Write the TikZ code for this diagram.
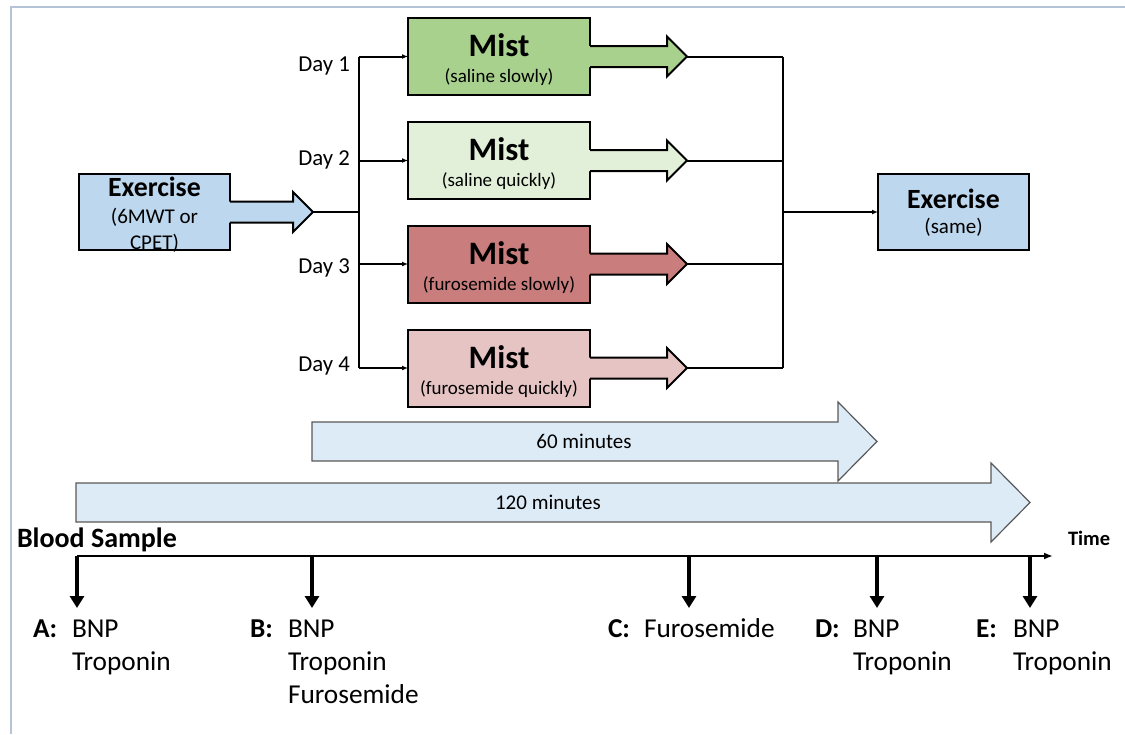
\documentclass[tikz,border=0pt]{standalone}
\usepackage{fontspec}
\setmainfont{Carlito}
\usetikzlibrary{arrows.meta,calc}
\definecolor{exblue}{HTML}{BDD7EE}
\definecolor{greenA}{HTML}{A9D18E}
\definecolor{greenB}{HTML}{E2F0D9}
\definecolor{redA}{HTML}{C97D7D}
\definecolor{redB}{HTML}{E7C4C4}
\definecolor{timeblue}{HTML}{DDEBF7}
\definecolor{framec}{HTML}{B4C4D6}
\newcommand\myfs[1]{\fontsize{#1}{#1}\selectfont}
\newcommand\blockarrow[4]{%
  \fill[#2] ($(#1.east)+(-1.5,-10.5)$) -- ++({#3+1.5},0) -- ++(0,-9.5) -- ++(20,20) -- ++(-20,20) -- ++(0,-9.5) -- ++({-#3-1.5},0) -- cycle;
  \draw[outl] ($(#1.east)+(0,-10.5)$) -- ++(#3,0) -- ++(0,-9.5) -- ++(20,20) coordinate (#4) -- ++(-20,20) -- ++(0,-9.5) -- ++(-#3,0);}
\begin{document}
\begin{tikzpicture}[x=1pt,y=-1pt,
  box/.style={draw=black, line width=2pt, inner sep=0pt, outer sep=0pt},
  mistbox/.style={box, minimum width=182pt, minimum height=77pt},
  exbox/.style={box, fill=exblue, minimum width=151pt, minimum height=76pt},
  outl/.style={draw=black, line width=2pt, line join=miter},
  txt/.style={inner sep=0pt, outer sep=0pt},
  conn/.style={draw=black, line width=2pt},
  connarrow/.style={conn, -{Latex[length=6pt,width=5pt]}},
  tarrow/.style={draw=black!65, line width=1.2pt, fill=timeblue, line join=miter},
  downarrow/.style={draw=black, line width=3.2pt, -{Triangle[length=12pt,width=14pt]}},
  daytxt/.style={txt, anchor=base east, font=\myfs{22.8}},
  misttxt/.style={txt, anchor=base, font=\bfseries\myfs{32.7}},
  subtxt/.style={txt, anchor=base, font=\myfs{19}},
  lettxt/.style={txt, anchor=base west, font=\bfseries\myfs{27.3}},
  bldtxt/.style={txt, anchor=base west, font=\myfs{27.3}}
]
\useasboundingbox (0,0) rectangle (1125,734);
% frame
\draw[framec, line width=1.5pt] (11,734) -- (11,7) -- (1125,7);

% left exercise
\node[exbox] (ex1) at (154.5,212) {};
\blockarrow{ex1}{exblue}{63}{t0}
\node[txt, anchor=base, font=\bfseries\myfs{27.8}] (ex1a) at (154.5,196) {Exercise};
\node[txt, anchor=base, font=\myfs{21}] (ex1b) at (154.5,223) {(6MWT or};
\node[txt, anchor=base, font=\myfs{21}] (ex1c) at (154.5,249) {CPET)};

% mist boxes
\node[mistbox, fill=greenA] (m1) at (499,56.5) {};
\node[mistbox, fill=greenB] (m2) at (499,160.5) {};
\node[mistbox, fill=redA] (m3) at (499,264) {};
\node[mistbox, fill=redB] (m4) at (499,368) {};
\blockarrow{m1}{greenA}{77}{t1}
\blockarrow{m2}{greenB}{77}{t2}
\blockarrow{m3}{redA}{77}{t3}
\blockarrow{m4}{redB}{77}{t4}
\node[misttxt] (m1a) at (499,56) {Mist};
\node[subtxt] (m1b) at (499,82) {(saline slowly)};
\node[misttxt] (m2a) at (499,160) {Mist};
\node[subtxt] (m2b) at (499,186) {(saline quickly)};
\node[misttxt] (m3a) at (499,264) {Mist};
\node[subtxt] (m3b) at (499,290) {(furosemide slowly)};
\node[misttxt] (m4a) at (499,368) {Mist};
\node[subtxt] (m4b) at (499,394) {(furosemide quickly)};

% day labels
\node[daytxt] (d1) at (350,71) {Day 1};
\node[daytxt] (d2) at (350,165) {Day 2};
\node[daytxt] (d3) at (350,273) {Day 3};
\node[daytxt] (d4) at (350,371) {Day 4};

% left connectors
\coordinate (L) at (359,212);
\draw[conn] (t0) -- (L);
\draw[conn] (m1.west -| L) -- (m4.west -| L);
\draw[connarrow] (m1.west -| L) -- (m1.west);
\draw[connarrow] (m2.west -| L) -- (m2.west);
\draw[connarrow] (m3.west -| L) -- (m3.west);
\draw[connarrow] (m4.west -| L) -- (m4.west);

% right exercise
\node[exbox] (ex2) at (953.5,212) {};
\node[txt, anchor=base, font=\bfseries\myfs{27.8}] (ex2a) at (953.5,208) {Exercise};
\node[txt, anchor=base, font=\myfs{21}] (ex2b) at (953.5,233) {(same)};

% right connectors
\coordinate (R) at (783,212);
\draw[conn] (t1) -- (t1 -| R);
\draw[conn] (t2) -- (t2 -| R);
\draw[conn] (t3) -- (t3 -| R);
\draw[conn] (t4) -- (t4 -| R);
\draw[conn] (t1 -| R) -- (t4 -| R);
\draw[connarrow] (ex2.west -| R) -- (ex2.west);

% time arrows
\draw[tarrow] (312,422) -- (838,422) -- (838,402) -- (877,441.5) -- (838,481) -- (838,461) -- (312,461) -- cycle;
\node[txt, anchor=base, font=\myfs{21}] (sixty) at (584,448) {60 minutes};
\draw[tarrow] (76,483) -- (991,483) -- (991,463) -- (1030,502.5) -- (991,542) -- (991,522) -- (76,522) -- cycle;
\node[txt, anchor=base, font=\myfs{21}] (onetwenty) at (548,509) {120 minutes};

% timeline
\node[txt, anchor=base west, font=\bfseries\myfs{28}] (blood) at (17,547) {Blood Sample};
\node[txt, anchor=base west, font=\bfseries\myfs{20.5}] (time) at (1068,545) {Time};
\coordinate (T0) at (77,556);
\coordinate (T1) at (1053,556);
\draw[line width=1.8pt, -{Latex[length=9pt,width=7pt]}] (T0) -- (T1);
\foreach \n/\x in {A/77,B/312,C/689,D/877,E/1030}{
  \coordinate (s\n) at (\x,556);
  \coordinate (e\n) at (\x,608);
  \draw[downarrow] (s\n) -- (e\n);
}

% sample labels
\node[lettxt] (lA) at (33,637) {A:};
\node[bldtxt] (A1) at (72,637) {BNP};
\node[bldtxt] (A2) at (72,670) {Troponin};
\node[lettxt] (lB) at (250,637) {B:};
\node[bldtxt] (B1) at (288,637) {BNP};
\node[bldtxt] (B2) at (288,670) {Troponin};
\node[bldtxt] (B3) at (288,703) {Furosemide};
\node[lettxt] (lC) at (608,637) {C:};
\node[bldtxt] (C1) at (644,637) {Furosemide};
\node[lettxt] (lD) at (815,637) {D:};
\node[bldtxt] (D1) at (853,637) {BNP};
\node[bldtxt] (D2) at (853,670) {Troponin};
\node[lettxt] (lE) at (976,637) {E:};
\node[bldtxt] (E1) at (1013,637) {BNP};
\node[bldtxt] (E2) at (1013,670) {Troponin};
\end{tikzpicture}
\end{document}
